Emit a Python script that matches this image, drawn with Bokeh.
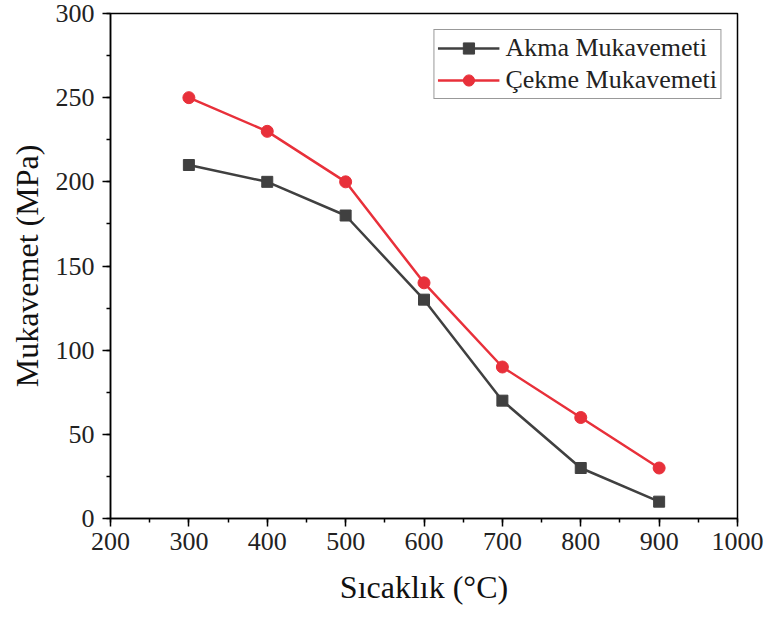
from bokeh.plotting import figure
from bokeh.models import SingleIntervalTicker, Range1d, Legend, LegendItem
from bokeh.embed import file_html
from bokeh.resources import INLINE

temps = [300, 400, 500, 600, 700, 800, 900]
akma = [210, 200, 180, 130, 70, 30, 10]
cekme = [250, 230, 200, 140, 90, 60, 30]
series_names = ["Akma Mukavemeti", "Çekme Mukavemeti"]
x_label = "Sıcaklık (°C)"
y_label = "Mukavemet (MPa)"

FONT = "Liberation Serif"
GRAY = "#404040"
RED = "#e8303a"

p = figure(width=764, height=621, output_backend="svg", toolbar_location=None,
           x_range=Range1d(200, 1000), y_range=Range1d(0, 300),
           min_border_left=110, min_border_right=27, min_border_top=13, min_border_bottom=103)
p.grid.visible = False
p.outline_line_color = "black"
p.outline_line_width = 1.5
p.outline_line_alpha = 1

p.xaxis.ticker = SingleIntervalTicker(interval=100, num_minor_ticks=2)
p.yaxis.ticker = SingleIntervalTicker(interval=50, num_minor_ticks=2)
for ax in (p.xaxis, p.yaxis):
    ax.axis_line_width = 1.5
    ax.axis_line_color = "black"
    ax.major_tick_line_width = 1.5
    ax.minor_tick_line_width = 1.5
    ax.major_tick_out = 8
    ax.major_tick_in = 0
    ax.minor_tick_out = 4
    ax.minor_tick_in = 0
    ax.major_label_text_font = FONT
    ax.major_label_text_font_size = "26px"
    ax.major_label_text_color = "#222222"
    ax.axis_label_text_font = FONT
    ax.axis_label_text_font_size = "32px"
    ax.axis_label_text_font_style = "normal"
    ax.axis_label_text_color = "#111111"
p.xaxis.axis_label = x_label
p.yaxis.axis_label = y_label
p.xaxis.major_label_standoff = 6
p.yaxis.major_label_standoff = 8
p.xaxis.axis_label_standoff = 16
p.yaxis.axis_label_standoff = 8

l1 = p.line(temps, akma, line_color=GRAY, line_width=2.5)
m1 = p.scatter(temps, akma, marker="square", size=11, fill_color=GRAY, line_color=GRAY)
l2 = p.line(temps, cekme, line_color=RED, line_width=2.5)
m2 = p.scatter(temps, cekme, marker="circle", size=12, fill_color=RED, line_color=RED)

legend = Legend(items=[LegendItem(label=series_names[0], renderers=[l1, m1]),
                       LegendItem(label=series_names[1], renderers=[l2, m2])],
                location="top_right")
legend.label_text_font = FONT
legend.label_text_font_size = "26px"
legend.label_text_color = "#222222"
legend.glyph_width = 62
legend.glyph_height = 28
legend.label_standoff = 6
legend.label_height = 28
legend.spacing = 2
legend.padding = 3
legend.margin = 16
legend.border_line_color = "#333333"
legend.border_line_width = 1
legend.background_fill_alpha = 1
p.add_layout(legend)

open("out.html", "w").write(file_html(p, INLINE))
